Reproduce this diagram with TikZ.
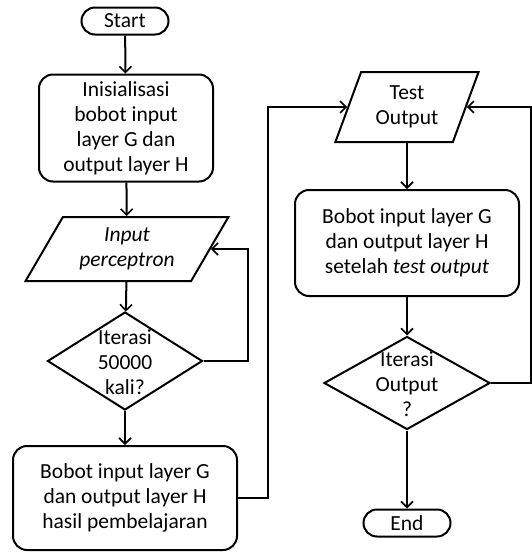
\documentclass[tikz,border=0pt]{standalone}
\usepackage{fontspec}
\setmainfont{Carlito}
\usetikzlibrary{shapes.geometric,shapes.misc,arrows.meta,calc}
\begin{document}
\begin{tikzpicture}[x=1pt,y=-1pt,
  every node/.style={font=\fontsize{21.5}{25}\selectfont, align=center, inner sep=0pt},
  line/.style={line width=2pt},
  arr/.style={line, -{Straight Barb[length=6pt,width=12pt,line width=1.6pt]}},
  term/.style={rounded rectangle, draw, line width=2pt, minimum width=87pt, minimum height=27pt},
  proc/.style={rectangle, rounded corners=14pt, draw, line width=2pt},
  io/.style={trapezium, trapezium stretches=true, draw, line width=2pt},
  dia/.style={diamond, draw, line width=2pt}
]
\useasboundingbox (0,0) rectangle (532,552);
\node[term] (start) at (125,21) {Start};
\node[proc, minimum width=174pt, minimum height=107pt] (init) at (126,128) {Inisialisasi\\bobot input\\layer G dan\\output layer H};
\node[io, trapezium left angle=56.7, trapezium right angle=123.3, minimum width=203pt, minimum height=64pt] (inp) at (127,249) {\itshape Input\\\itshape perceptron};
\node[dia, minimum width=155pt, minimum height=98pt] (d1) at (125,361) {};
\node (d1t) at (125,362) {Iterasi\\50000\\kali?};
\node[proc, minimum width=224pt, minimum height=104pt] (b2) at (125,498) {Bobot input layer G\\dan output layer H\\hasil pembelajaran};
\node[io, trapezium left angle=67.5, trapezium right angle=112.5, minimum width=144pt, minimum height=70pt] (tout) at (407,107) {Test\\Output};
\node[proc, minimum width=224pt, minimum height=106pt] (b3) at (407,243) {Bobot input layer G\\dan output layer H\\setelah \textit{test output}};
\node[dia, minimum width=166pt, minimum height=93pt] (d2) at (407,383) {};
\node (d2t) at (407,384) {Iterasi\\Output\\?};
\node[term] (end) at (407,523) {End};
\coordinate (inpR) at ($(inp.top right corner)!0.5!(inp.bottom right corner)$);
\coordinate (toutL) at ($(tout.top left corner)!0.5!(tout.bottom left corner)$);
\coordinate (toutR) at ($(tout.top right corner)!0.5!(tout.bottom right corner)$);
\draw[arr] (start) -- (init);
\draw[arr] (init) -- (inp);
\draw[arr] (inp) -- (d1);
\draw[arr] (d1.east) -| (248,249) -- (inpR);
\draw[arr] (d1) -- (b2);
\draw[arr] (b2.east) -| (268,107) -- (toutL);
\draw[arr] (tout) -- (b3);
\draw[arr] (b3) -- (d2);
\draw[arr] (d2.east) -| (531,107) -- (toutR);
\draw[arr] (d2) -- (end);
\end{tikzpicture}
\end{document}
